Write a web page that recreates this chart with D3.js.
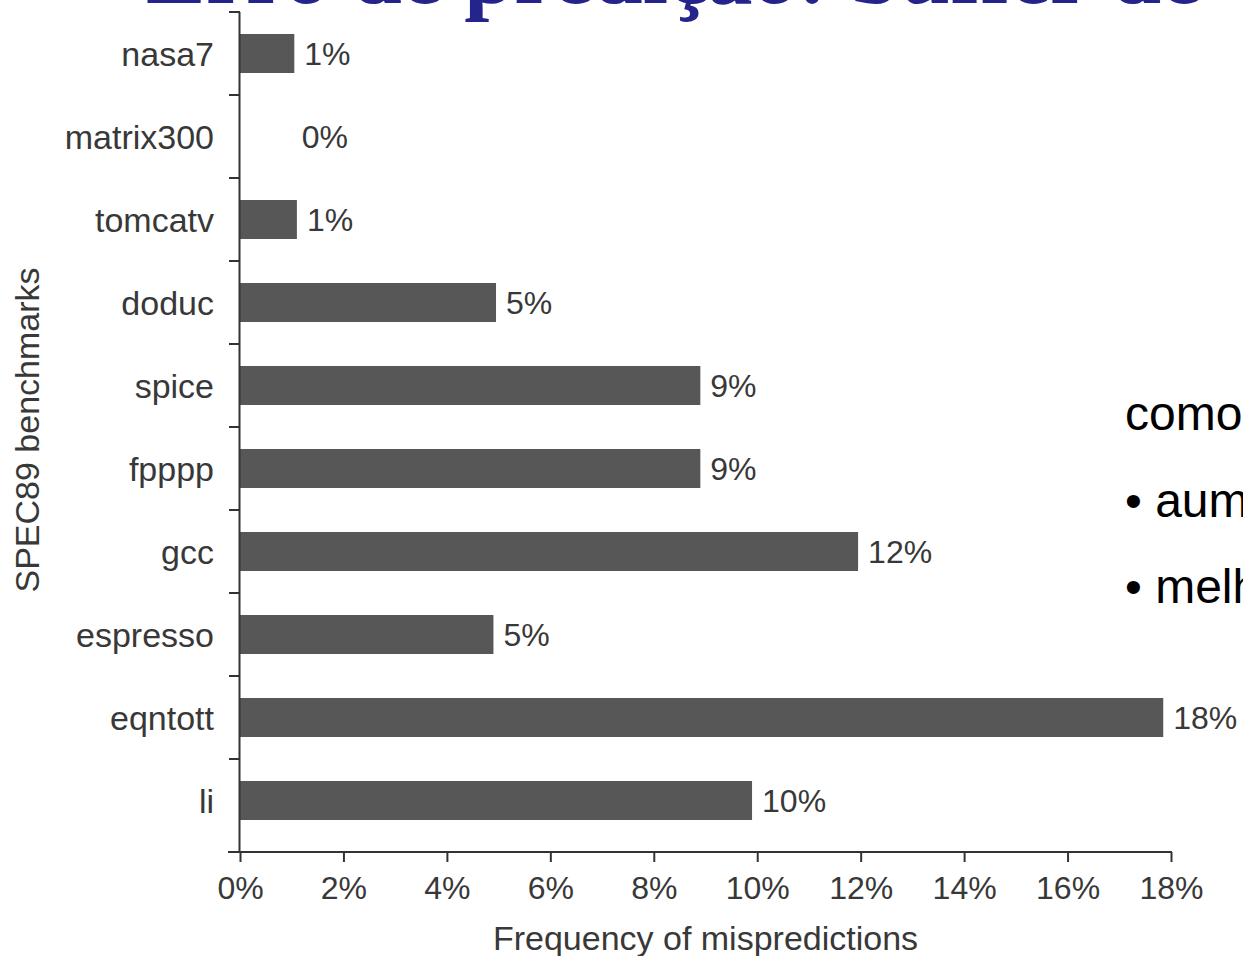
<!DOCTYPE html>
<html>
<head>
<meta charset="utf-8">
<script src="https://cdn.jsdelivr.net/npm/d3@7"></script>
<style>
  html, body { margin: 0; padding: 0; background: #fff; overflow: hidden; }
  svg { display: block; }
</style>
</head>
<body>
<svg id="chart" width="1243" height="956"></svg>
<script>
// ---- data ----
const categories = ["nasa7", "matrix300", "tomcatv", "doduc", "spice", "fpppp", "gcc", "espresso", "eqntott", "li"];
const values = [1.05, 0, 1.1, 4.95, 8.9, 8.9, 11.95, 4.9, 17.85, 9.9];
const valueLabels = ["1%", "0%", "1%", "5%", "9%", "9%", "12%", "5%", "18%", "10%"];
const xTicks = [0, 2, 4, 6, 8, 10, 12, 14, 16, 18];
const xTickLabels = ["0%", "2%", "4%", "6%", "8%", "10%", "12%", "14%", "16%", "18%"];
const titleText = "Erro de predição: buffer de 4096 entradas";
const sideLines = ["como", "• aumentar", "• melhorar"];
const xTitle = "Frequency of mispredictions";
const yTitle = "SPEC89 benchmarks";

// ---- layout ----
const svg = d3.select("#chart");
const font = "'Liberation Sans', Arial, Helvetica, sans-serif";
const textColor = "#383838";
const barColor = "#575757";

svg.append("rect").attr("width", 1243).attr("height", 956).attr("fill", "#fff");

const x = d3.scaleLinear().domain([0, 18]).range([240, 1171]);
const y = d3.scaleBand().domain(categories).range([12, 842]).paddingInner(0.53).paddingOuter(0.265);
const axisY = 852;
const step = y.step();
const gapHalf = (step - y.bandwidth()) / 2;

// title (cut off at the top)
svg.append("text")
  .attr("x", 146).attr("y", 3)
  .attr("font-family", "'Liberation Serif', 'Times New Roman', serif")
  .attr("font-weight", "bold")
  .attr("font-size", 90)
  .attr("fill", "#24248c")
  .text(titleText);

// bars
const data = categories.map((c, i) => ({ c, v: values[i], label: valueLabels[i] }));

svg.append("g").selectAll("rect").data(data).join("rect")
  .attr("x", x(0))
  .attr("y", d => y(d.c))
  .attr("width", d => x(d.v) - x(0))
  .attr("height", y.bandwidth())
  .attr("fill", barColor);

// value labels
svg.append("g").selectAll("text").data(data).join("text")
  .attr("x", d => Math.max(x(d.v), x(1)) + 10)
  .attr("y", d => y(d.c) + y.bandwidth() / 2)
  .attr("dy", "0.36em")
  .attr("font-family", font).attr("font-size", 32).attr("fill", textColor)
  .text(d => d.label);

// y axis line and boundary ticks
const yAxisG = svg.append("g").attr("stroke", "#333").attr("stroke-width", 2);
yAxisG.append("line").attr("x1", x(0) - 0.5).attr("x2", x(0) - 0.5).attr("y1", 12).attr("y2", axisY);
const boundaries = categories.map(c => y(c) - gapHalf);
yAxisG.selectAll("line.tk").data(boundaries).join("line").attr("class", "tk")
  .attr("x1", x(0) - 11).attr("x2", x(0)).attr("y1", d => d).attr("y2", d => d);

// category labels
svg.append("g").selectAll("text").data(categories).join("text")
  .attr("x", 214)
  .attr("y", d => y(d) + y.bandwidth() / 2)
  .attr("dy", "0.36em")
  .attr("text-anchor", "end")
  .attr("font-family", font).attr("font-size", 34).attr("fill", textColor)
  .text(d => d);

// x axis
const xAxis = d3.axisBottom(x).tickValues(xTicks).tickFormat((d, i) => xTickLabels[i]).tickSize(10).tickPadding(14);
const gx = svg.append("g").attr("transform", `translate(0,${axisY})`).call(xAxis);
gx.select(".domain").remove();
gx.selectAll(".tick line").attr("stroke", "#333").attr("stroke-width", 2);
gx.selectAll(".tick text").attr("font-family", font).attr("font-size", 32).attr("fill", textColor).attr("dy", "0.71em");
gx.append("line").attr("x1", 228).attr("x2", x(18) + 1).attr("y1", 0).attr("y2", 0).attr("stroke", "#333").attr("stroke-width", 2);

// axis titles
svg.append("text")
  .attr("x", (x(0) + x(18)) / 2).attr("y", 950)
  .attr("text-anchor", "middle")
  .attr("font-family", font).attr("font-size", 34).attr("fill", textColor)
  .text(xTitle);

svg.append("text")
  .attr("transform", `translate(39,${(12 + 842) / 2 + 3}) rotate(-90)`)
  .attr("text-anchor", "middle")
  .attr("font-family", font).attr("font-size", 34).attr("fill", textColor)
  .text(yTitle);

// side text (cut off at right edge)
const sideY = [430, 517, 603];
svg.append("g").selectAll("text").data(sideLines).join("text")
  .attr("x", 1125).attr("y", (d, i) => sideY[i])
  .attr("font-family", font).attr("font-size", 48).attr("fill", "#000")
  .text(d => d);
</script>
</body>
</html>
